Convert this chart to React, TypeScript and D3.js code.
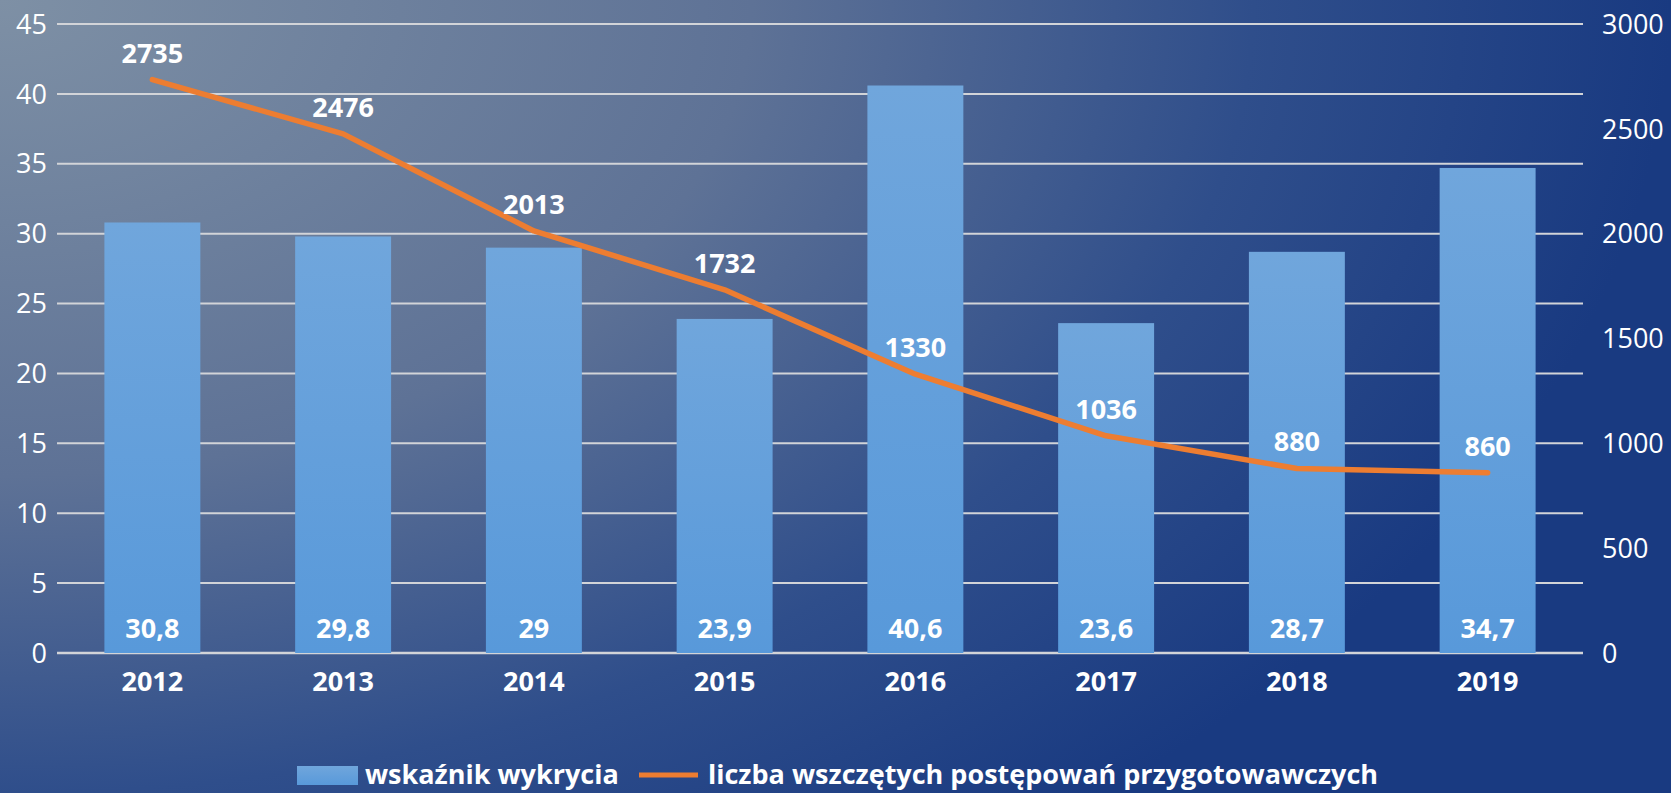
import React from "react";
import * as d3 from "d3";

const years = ["2012", "2013", "2014", "2015", "2016", "2017", "2018", "2019"];
const detectionRate = [30.8, 29.8, 29, 23.9, 40.6, 23.6, 28.7, 34.7];
const proceedings = [2735, 2476, 2013, 1732, 1330, 1036, 880, 860];
const leftTicks = [0, 5, 10, 15, 20, 25, 30, 35, 40, 45];
const rightTicks = [0, 500, 1000, 1500, 2000, 2500, 3000];
const seriesNames = ["wskaźnik wykrycia", "liczba wszczętych postępowań przygotowawczych"];

const W = 1671;
const H = 793;
const FONT = "'Open Sans', 'Noto Sans', sans-serif";

export default function App() {
  const x0 = 57, x1 = 1583, yTop = 24, yBot = 653;
  const x = d3.scaleBand<string>().domain(years).range([x0, x1]).paddingInner(0.497).paddingOuter(0.2485);
  const yL = d3.scaleLinear().domain([0, 45]).range([yBot, yTop]);
  const yR = d3.scaleLinear().domain([0, 3000]).range([yBot, yTop]);
  const cx = (y: string) => (x(y) as number) + x.bandwidth() / 2;
  const line = d3
    .line<number>()
    .x((_, i) => cx(years[i]))
    .y((d) => yR(d))
    .curve(d3.curveLinear);

  const fmt = (v: number) => String(v).replace(".", ",");

  return (
    <svg width={W} height={H} style={{ position: "absolute", left: 0, top: 0, display: "block" }} fontFamily={FONT}>
      <defs>
        <radialGradient id="bg" gradientUnits="userSpaceOnUse" cx={0} cy={0} r={1671} fx={0} fy={0} gradientTransform="scale(1,0.633)">
          <stop offset="0" stopColor="#7E90A5" />
          <stop offset="0.45" stopColor="#5E7296" />
          <stop offset="0.75" stopColor="#2F4E8B" />
          <stop offset="1" stopColor="#193A81" />
        </radialGradient>
        <linearGradient id="bar" x1="0" y1="0" x2="0" y2="1">
          <stop offset="0" stopColor="#70A6DC" />
          <stop offset="1" stopColor="#5899DA" />
        </linearGradient>
      </defs>
      <rect x={0} y={0} width={W} height={H} fill="url(#bg)" />
      {leftTicks.map((t) => (
        <line key={t} x1={x0} x2={x1} y1={yL(t)} y2={yL(t)} stroke="#D2D4D8" strokeWidth={t === 0 ? 2.5 : 2} />
      ))}
      {leftTicks.map((t) => (
        <text key={"l" + t} x={47} y={yL(t)} dy="0.36em" textAnchor="end" fill="#fff" fontSize={27}>
          {t}
        </text>
      ))}
      {rightTicks.map((t) => (
        <text key={"r" + t} x={1602} y={yR(t)} dy="0.36em" textAnchor="start" fill="#fff" fontSize={27}>
          {t}
        </text>
      ))}
      {detectionRate.map((v, i) => (
        <rect key={"b" + i} x={x(years[i])} y={yL(v)} width={x.bandwidth()} height={yBot - yL(v)} fill="url(#bar)" />
      ))}
      {detectionRate.map((v, i) => (
        <text key={"bl" + i} x={cx(years[i])} y={yBot - 15} textAnchor="middle" fill="#fff" fontSize={27} fontWeight={700}>
          {fmt(v)}
        </text>
      ))}
      {years.map((y) => (
        <text key={"y" + y} x={cx(y)} y={691} textAnchor="middle" fill="#fff" fontSize={27} fontWeight={700}>
          {y}
        </text>
      ))}
      <path d={line(proceedings) || ""} fill="none" stroke="#ED7D31" strokeWidth={5.5} strokeLinejoin="round" strokeLinecap="round" />
      {proceedings.map((v, i) => (
        <text key={"pl" + i} x={cx(years[i])} y={yR(v) - 17} textAnchor="middle" fill="#fff" fontSize={27} fontWeight={700}>
          {v}
        </text>
      ))}
      <g>
        <rect x={297} y={766} width={61} height={19} fill="url(#bar)" />
        <text x={365} y={784} fill="#fff" fontSize={27} fontWeight={700}>
          {seriesNames[0]}
        </text>
        <line x1={639} x2={698} y1={775} y2={775} stroke="#ED7D31" strokeWidth={5} />
        <text x={708} y={784} fill="#fff" fontSize={27} fontWeight={700}>
          {seriesNames[1]}
        </text>
      </g>
    </svg>
  );
}
